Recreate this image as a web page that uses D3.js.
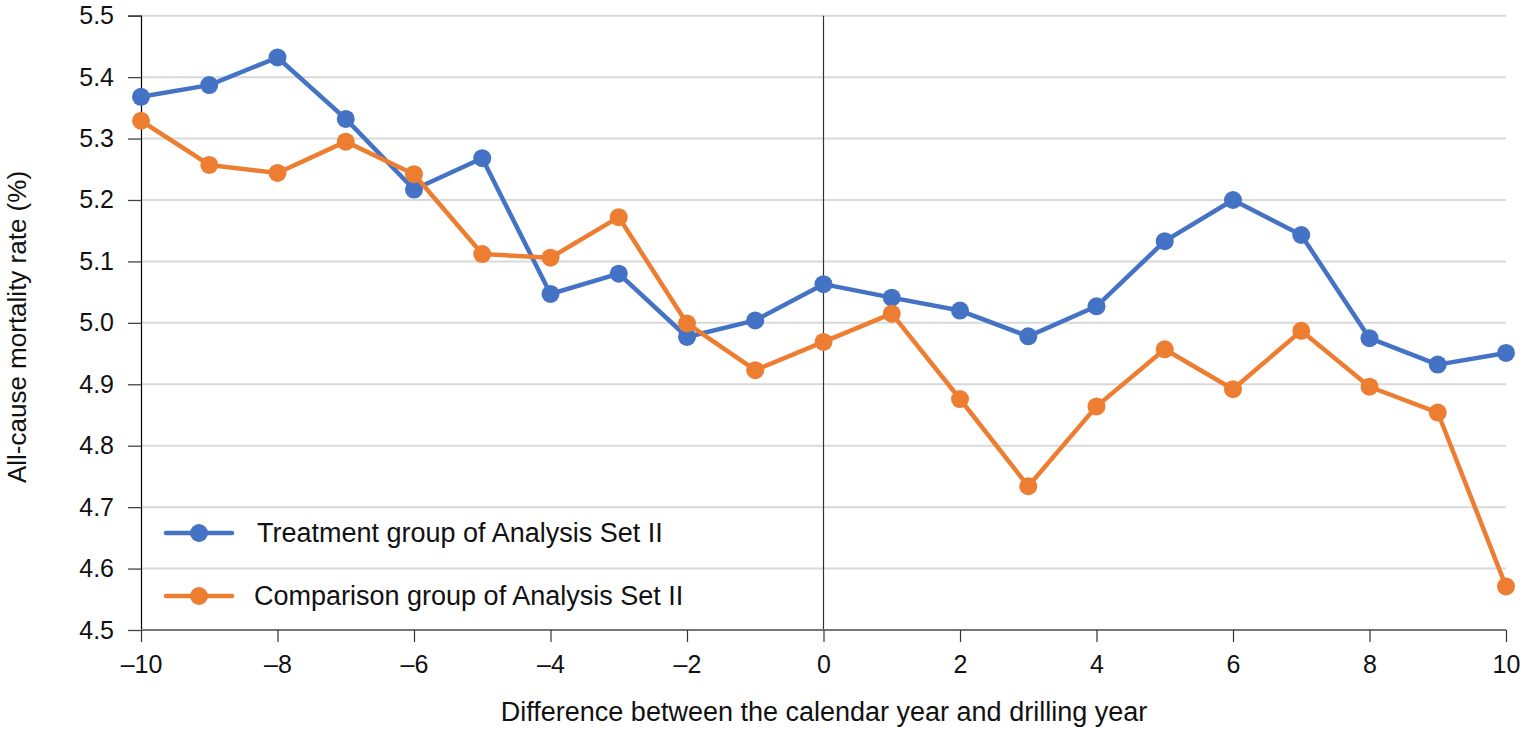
<!DOCTYPE html>
<html><head><meta charset="utf-8">
<script src="https://cdn.jsdelivr.net/npm/d3@7"></script>
<style>body{margin:0;background:#fff;} text{font-family:"Liberation Sans",Arial,Helvetica,sans-serif;}</style>
</head><body>
<svg id="chart" width="1525" height="730"></svg>
<script>
const years = [-10,-9,-8,-7,-6,-5,-4,-3,-2,-1,0,1,2,3,4,5,6,7,8,9,10];
const treatment = [5.368,5.387,5.432,5.332,5.217,5.268,5.047,5.080,4.977,5.004,5.063,5.041,5.020,4.978,5.027,5.133,5.200,5.143,4.975,4.932,4.951];
const comparison = [5.329,5.257,5.244,5.295,5.242,5.112,5.106,5.172,4.999,4.923,4.969,5.015,4.876,4.734,4.864,4.957,4.892,4.987,4.896,4.854,4.571];
const xTicks = [-10,-8,-6,-4,-2,0,2,4,6,8,10];
const yTicks = [4.5,4.6,4.7,4.8,4.9,5.0,5.1,5.2,5.3,5.4,5.5];
const seriesNames = ["Treatment group of Analysis Set II","Comparison group of Analysis Set II"];
const colors = ["#4472C4","#ED7D31"];

const svg = d3.select("#chart");
const L = 141, R = 1506, T = 15.7, B = 630;
const x = d3.scaleLinear().domain([-10,10]).range([L,R]);
const y = d3.scaleLinear().domain([4.5,5.5]).range([B,T]);

// gridlines
svg.append("g").selectAll("line").data(yTicks.filter(d=>d>4.5)).join("line")
  .attr("x1",L).attr("x2",R).attr("y1",d=>y(d)).attr("y2",d=>y(d))
  .attr("stroke","#d9d9d9").attr("stroke-width",2);

// vertical line at 0
svg.append("line").attr("x1",x(0)).attr("x2",x(0)).attr("y1",T).attr("y2",B)
  .attr("stroke","#333").attr("stroke-width",1.2);

// y axis
const yAxis = svg.append("g").attr("transform",`translate(${L},0)`)
  .call(d3.axisLeft(y).tickValues(yTicks).tickFormat(d3.format(".1f")).tickSize(13).tickPadding(14));
yAxis.select(".domain").attr("stroke","#000").attr("stroke-width",1.2);
yAxis.selectAll(".tick line").attr("stroke","#444").attr("stroke-width",1.3);
yAxis.selectAll("text").attr("font-size",25).attr("fill","#111").attr("font-family","'Liberation Sans',Arial,sans-serif");

// x axis
const xAxis = svg.append("g").attr("transform",`translate(0,${B})`)
  .call(d3.axisBottom(x).tickValues(xTicks).tickFormat(d=>d<0?"\u2013"+Math.abs(d):d).tickSize(12).tickPadding(13));
xAxis.select(".domain").attr("stroke","#777").attr("stroke-width",2.2).attr("d",`M${L},0H${R}`);
xAxis.selectAll(".tick line").attr("stroke","#333").attr("stroke-width",1.2);
xAxis.selectAll("text").attr("font-size",25).attr("fill","#111").attr("font-family","'Liberation Sans',Arial,sans-serif");

// axis titles
svg.append("text").attr("x",824).attr("y",721).attr("text-anchor","middle")
  .attr("font-size",27).attr("fill","#111").text("Difference between the calendar year and drilling year");
svg.append("text").attr("transform",`translate(26,327) rotate(-90)`).attr("text-anchor","middle")
  .attr("font-size",26).attr("fill","#111").text("All-cause mortality rate (%)");

// series
const line = d3.line().x((d,i)=>x(years[i])).y(d=>y(d));
[treatment, comparison].forEach((s,k)=>{
  svg.append("path").datum(s).attr("d",line).attr("fill","none")
    .attr("stroke",colors[k]).attr("stroke-width",4.5).attr("stroke-linejoin","round");
  svg.append("g").selectAll("circle").data(s).join("circle")
    .attr("cx",(d,i)=>x(years[i])).attr("cy",d=>y(d)).attr("r",9).attr("fill",colors[k]);
});

// legend
const legY = [533, 596];
seriesNames.forEach((n,k)=>{
  const g = svg.append("g");
  g.append("line").attr("x1",166).attr("x2",232).attr("y1",legY[k]).attr("y2",legY[k])
    .attr("stroke",colors[k]).attr("stroke-width",4.5).attr("stroke-linecap","round");
  g.append("circle").attr("cx",199).attr("cy",legY[k]).attr("r",9).attr("fill",colors[k]);
  g.append("text").attr("x",k===0?257:254).attr("y",legY[k]+9).attr("font-size",27).attr("fill","#111").text(n);
});
</script>
</body></html>
